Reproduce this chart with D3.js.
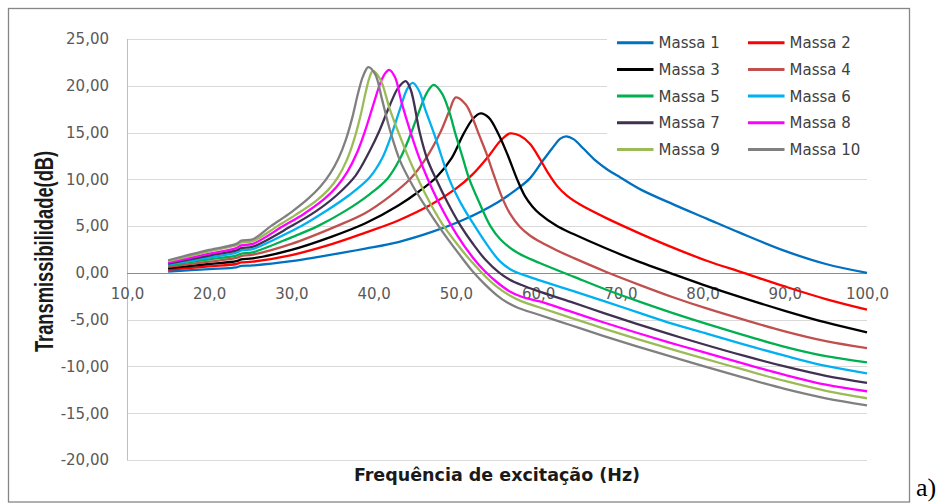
<!DOCTYPE html>
<html>
<head>
<meta charset="utf-8">
<script src="https://cdn.jsdelivr.net/npm/d3@7"></script>
<style>
  html, body { margin: 0; padding: 0; background: #ffffff; }
  svg { display: block; }
</style>
</head>
<body>
<svg id="chart" width="944" height="504"></svg>
<script>
// Transmissibility (dB) versus excitation frequency (Hz), one curve per mass.
// Each series is a list of [frequency, dB] points.
const massa1 = [[15,0.15],[20,0.4],[23.3,0.6],[23.9,0.75],[25.3,0.8],[30,1.25],[33.5,1.75],[39,2.6],[43,3.3],[47,4.35],[51,5.7],[55,7.5],[57.5,9.0],[59,10.1],[60.5,11.9],[61.7,13.3],[62.7,14.35],[63.4,14.6],[64.3,14.3],[65.5,13.3],[67,12.0],[68.5,11.0],[70,10.2],[72.5,8.9],[76.5,7.3],[80.5,5.8],[84.5,4.3],[90,2.35],[95,0.95],[100,0.0]];
const massa2 = [[15,0.35],[20,0.7],[23.3,0.95],[23.9,1.12],[25.3,1.2],[30,1.9],[35,3.1],[39,4.3],[43,5.6],[47,7.3],[50,9.0],[52,10.5],[54,12.5],[55.5,14.2],[56.6,14.9],[57.8,14.65],[59,13.8],[60.2,12.2],[61.2,10.7],[62.3,9.3],[63.5,8.25],[65.1,7.3],[68.3,5.85],[72.4,4.2],[76.4,2.7],[80.5,1.3],[85,0.0],[90,-1.45],[95,-2.8],[100,-3.93]];
const massa3 = [[15,0.5],[20,0.95],[23.3,1.25],[23.9,1.45],[25.3,1.55],[30,2.45],[35,3.9],[39,5.3],[43,7.2],[45.5,8.7],[47.6,10.2],[49.5,12.3],[50.9,14.8],[52.1,16.5],[53,17.05],[54,16.6],[55.2,14.8],[56.3,12.6],[57.4,10.1],[58.4,8.2],[59.3,7.1],[60.2,6.3],[62.3,5.0],[64.3,4.15],[68.3,2.6],[72.4,1.15],[76,0.0],[80,-1.25],[85,-2.7],[90,-4.05],[95,-5.3],[100,-6.36]];
const massa4 = [[15,0.65],[20,1.2],[23.3,1.6],[23.9,1.8],[25.3,1.95],[30,3.1],[35.5,5.0],[39,6.4],[42,8.2],[44.4,10.0],[46.4,12.3],[48.1,15.0],[49.2,17.3],[50,18.75],[51.2,18.0],[52,16.6],[52.8,14.8],[53.7,12.8],[54.6,10.5],[55.6,8.1],[56.6,6.3],[57.8,4.9],[59,4.0],[60.2,3.35],[62.3,2.4],[64.3,1.6],[68.3,0.1],[72.4,-1.3],[76.4,-2.6],[80.5,-3.8],[85,-5.0],[90,-6.25],[95,-7.3],[100,-8.04]];
const massa5 = [[15,0.8],[20,1.45],[23.3,1.85],[23.9,2.05],[25.3,2.2],[30,3.8],[33.2,5.0],[36.5,6.6],[39.5,8.4],[41.7,10.1],[43.2,12.2],[44.4,14.6],[45.5,17.2],[46.5,19.3],[47.3,20.1],[48.3,19.2],[49.2,17.2],[49.9,15.0],[50.8,12.4],[51.6,10.1],[52.8,7.6],[54.2,5.0],[55.4,3.6],[57.4,2.2],[60.2,1.05],[64.3,-0.4],[68.3,-1.8],[72.4,-3.1],[76.4,-4.3],[80.5,-5.45],[85,-6.65],[90,-7.9],[95,-8.9],[100,-9.57]];
const massa6 = [[15,0.9],[20,1.65],[23.3,2.15],[23.9,2.4],[25.3,2.55],[28,3.6],[31.2,5.0],[34,6.5],[37,8.3],[39.5,10.2],[41,12.2],[42.1,14.6],[43.2,17.5],[44.1,19.7],[44.75,20.3],[45.5,19.5],[46.3,17.4],[47.3,15.0],[48.2,12.6],[49.2,10.0],[50.7,7.3],[52.3,5.0],[53.8,3.0],[55.4,1.2],[57,0.2],[58.5,-0.3],[60.2,-0.8],[64.3,-1.95],[68.3,-3.1],[72.4,-4.3],[76.4,-5.45],[80.5,-6.5],[85,-7.65],[90,-8.85],[95,-9.95],[100,-10.75]];
const massa7 = [[15,1.0],[20,1.85],[23.3,2.4],[23.9,2.65],[25.3,2.8],[30,5.0],[33,6.6],[35.5,8.3],[37.8,10.4],[39.5,13.0],[40.7,15.2],[42,18.0],[43,19.8],[43.9,20.5],[44.5,19.6],[45.6,15.0],[46.5,12.2],[47.6,10.0],[49,7.5],[50.6,5.0],[52,3.2],[53.6,1.4],[55.3,0.0],[56.5,-0.7],[58,-1.3],[60,-1.95],[64,-3.1],[68,-4.3],[72,-5.45],[76,-6.55],[80,-7.6],[85,-8.85],[90,-10.0],[95,-11.0],[100,-11.75]];
const massa8 = [[15,1.1],[20,2.05],[23.3,2.65],[23.9,2.95],[25.3,3.1],[29,5.0],[31.5,6.3],[34,7.9],[35.5,9.2],[36.8,10.8],[38,12.9],[39,15.3],[40,18.1],[40.9,20.5],[41.5,21.45],[41.9,21.7],[42.6,20.9],[43.4,18.2],[44.5,15.0],[45.5,12.4],[46.5,10.2],[48.1,7.2],[50.1,4.1],[52.1,1.6],[53.5,0.2],[55,-1.0],[56.5,-1.95],[58,-2.55],[60.2,-3.05],[64,-4.15],[68,-5.3],[72,-6.4],[76,-7.45],[80,-8.45],[85,-9.7],[90,-10.9],[95,-11.95],[100,-12.65]];
const massa9 = [[15,1.25],[20,2.3],[23.3,2.95],[23.9,3.25],[25.3,3.4],[28.3,5.0],[30.5,6.2],[33,7.7],[34.5,8.9],[35.7,10.3],[36.7,12.0],[37.6,14.2],[38.4,16.8],[39,19.2],[39.5,20.9],[39.9,21.6],[40.8,20.7],[42,17.4],[43.2,14.6],[44.7,11.4],[46.3,8.4],[48.3,5.3],[50.4,2.8],[52,1.1],[53.5,-0.3],[55,-1.5],[56.5,-2.4],[58,-3.05],[60.2,-3.7],[64,-4.8],[68,-5.95],[72,-7.05],[76,-8.1],[80,-9.1],[85,-10.35],[90,-11.55],[95,-12.6],[100,-13.4]];
const massa10 = [[15,1.35],[20,2.45],[23.3,3.1],[23.9,3.45],[25.3,3.6],[27.5,5.0],[30,6.5],[32,7.9],[33.5,9.2],[34.7,10.6],[35.7,12.2],[36.6,14.2],[37.4,16.6],[38.1,19.2],[38.7,21.0],[39.35,22.0],[40.2,21.2],[41,18.6],[42,15.2],[43.2,12.0],[44.7,9.4],[46.3,7.1],[48.3,4.5],[50.4,2.0],[52,0.2],[53.5,-1.2],[55,-2.4],[56.3,-3.2],[57.6,-3.75],[60,-4.45],[64,-5.6],[68,-6.75],[72,-7.85],[76,-8.9],[80,-9.95],[85,-11.2],[90,-12.4],[95,-13.4],[100,-14.15]];

const seriesNames = ["Massa 1","Massa 2","Massa 3","Massa 4","Massa 5","Massa 6","Massa 7","Massa 8","Massa 9","Massa 10"];
const seriesColors = ["#0070C0","#FF0000","#000000","#C0504D","#00B050","#00B0F0","#403152","#FF00FF","#9BBB59","#808080"];
const seriesData = [massa1, massa2, massa3, massa4, massa5, massa6, massa7, massa8, massa9, massa10];

const xTicks = [10,20,30,40,50,60,70,80,90,100];
const yTicks = [-20,-15,-10,-5,0,5,10,15,20,25];
const xTitle = "Frequência de excitação (Hz)";
const yTitle = "Transmissibilidade(dB)";
const panelTag = "a)";

const svg = d3.select("#chart");
const W = 944, H = 504;
const plot = { left: 127, right: 867, top: 39, bottom: 460 };

// decimal comma, plain hyphen for negatives
const ptBR = d3.formatLocale({ decimal: ",", thousands: ".", grouping: [3], currency: ["", ""], minus: "-" });
const fmtY = ptBR.format(".2f");
const fmtX = ptBR.format(".1f");

const x = d3.scaleLinear().domain([10, 100]).range([plot.left, plot.right]);
const y = d3.scaleLinear().domain([-20, 25]).range([plot.bottom, plot.top]);

svg.append("rect").attr("width", W).attr("height", H).attr("fill", "#ffffff");

// outer chart frame
svg.append("rect")
  .attr("x", 8.5).attr("y", 8.5).attr("width", 901).attr("height", 493.5)
  .attr("fill", "none").attr("stroke", "#868686").attr("stroke-width", 1.3);

// horizontal gridlines
svg.append("g").selectAll("line")
  .data(yTicks.filter(v => v !== 0))
  .join("line")
  .attr("x1", plot.left).attr("x2", plot.right)
  .attr("y1", d => Math.round(y(d)) + 0.5).attr("y2", d => Math.round(y(d)) + 0.5)
  .attr("stroke", "#d9d9d9").attr("stroke-width", 1);

// vertical value axis line
svg.append("line")
  .attr("x1", plot.left + 0.5).attr("x2", plot.left + 0.5)
  .attr("y1", plot.top).attr("y2", plot.bottom)
  .attr("stroke", "#bfbfbf").attr("stroke-width", 1);

// y axis labels
const yAxis = svg.append("g")
  .attr("transform", `translate(${plot.left},0)`)
  .call(d3.axisLeft(y).tickValues(yTicks).tickSize(0).tickPadding(18).tickFormat(fmtY));
yAxis.select(".domain").remove();
yAxis.selectAll("text")
  .attr("font-family", "DejaVu Sans").attr("font-size", 15).attr("fill", "#595959");

// x axis along zero, labels just below it
const xAxis = svg.append("g")
  .attr("transform", `translate(0,${y(0)})`)
  .call(d3.axisBottom(x).tickValues(xTicks).tickSize(0).tickPadding(15).tickFormat(fmtX));
xAxis.select(".domain").remove();
xAxis.selectAll("text")
  .attr("font-family", "DejaVu Sans").attr("font-size", 15).attr("fill", "#595959");

svg.append("line")
  .attr("x1", plot.left).attr("x2", plot.right)
  .attr("y1", Math.round(y(0)) + 0.5).attr("y2", Math.round(y(0)) + 0.5)
  .attr("stroke", "#8c8c8c").attr("stroke-width", 1);

// curves
const line = d3.line()
  .x(d => x(d[0]))
  .y(d => y(d[1]))
  .curve(d3.curveCatmullRom.alpha(0.5));

svg.append("g").selectAll("path")
  .data(seriesData)
  .join("path")
  .attr("d", d => line(d))
  .attr("fill", "none")
  .attr("stroke", (d, i) => seriesColors[i])
  .attr("stroke-width", 2.3)
  .attr("stroke-linejoin", "round");

// legend: two columns, five rows
const legend = svg.append("g");
legend.append("rect")
  .attr("x", 607).attr("y", 26).attr("width", 262).attr("height", 136)
  .attr("fill", "#ffffff");
const items = legend.selectAll("g.item")
  .data(seriesNames)
  .join("g")
  .attr("class", "item")
  .attr("transform", (d, i) => `translate(${617 + (i % 2) * 131},${42.7 + Math.floor(i / 2) * 26.7})`);
items.append("line")
  .attr("x1", 0).attr("x2", 36.5).attr("y1", 0).attr("y2", 0)
  .attr("stroke", (d, i) => seriesColors[i]).attr("stroke-width", 3);
items.append("text")
  .attr("x", 41.5).attr("y", 5.4)
  .attr("font-family", "DejaVu Sans").attr("font-size", 15).attr("fill", "#404040")
  .text(d => d);

// axis titles
svg.append("text")
  .attr("x", (plot.left + plot.right) / 2).attr("y", 481)
  .attr("text-anchor", "middle")
  .attr("font-family", "DejaVu Sans").attr("font-weight", "bold").attr("font-size", 17.5)
  .attr("fill", "#1a1a1a")
  .text(xTitle);

svg.append("text")
  .attr("transform", "translate(44,251.5) scale(1.4,1) rotate(-90)")
  .attr("text-anchor", "middle").attr("dy", "0.36em")
  .attr("font-family", "Liberation Sans").attr("font-weight", "bold").attr("font-size", 18.3)
  .attr("fill", "#1a1a1a")
  .text(yTitle);

// panel tag
svg.append("text")
  .attr("x", 916).attr("y", 496)
  .attr("font-family", "Liberation Serif").attr("font-size", 26).attr("fill", "#000000")
  .text(panelTag);
</script>
</body>
</html>
